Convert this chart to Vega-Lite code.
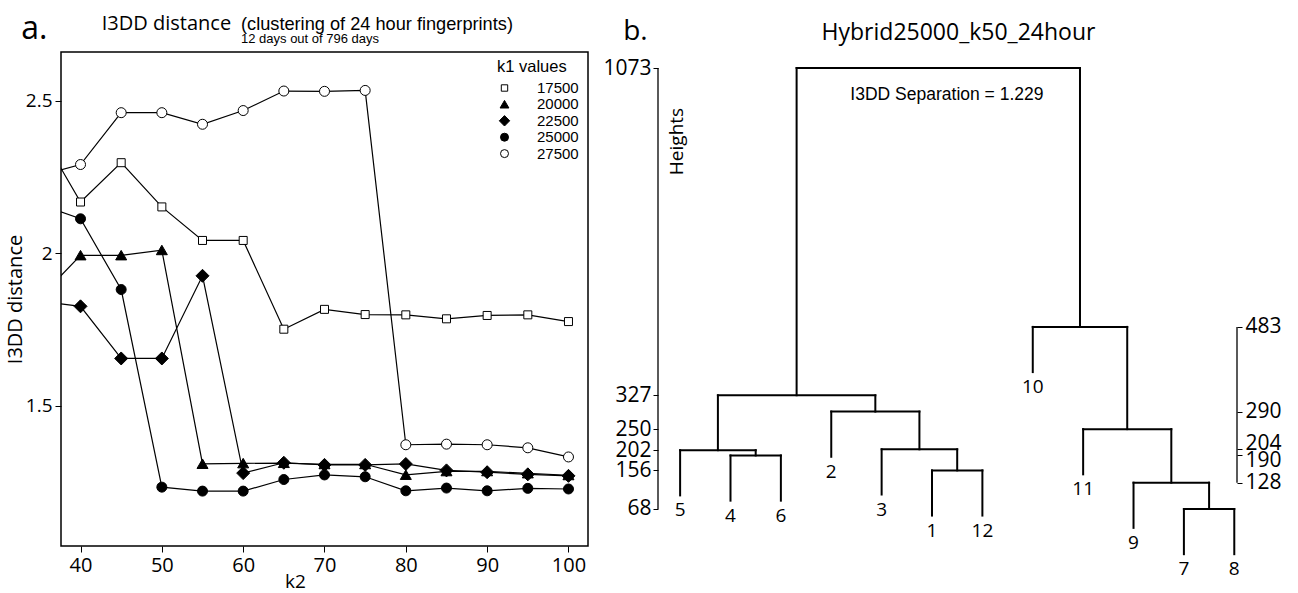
{
  "$schema": "https://vega.github.io/schema/vega-lite/v6.json",
  "padding": {"left": 4, "top": 12, "right": 5, "bottom": 0},
  "background": "white",
  "spacing": 13,
  "config": {
    "view": {"stroke": null},
    "font": "Open Sans",
    "axis": {"grid": false, "domainColor": "black", "tickColor": "black", "labelColor": "black", "titleColor": "black", "titleFontWeight": "normal", "labelFont": "Open Sans", "titleFont": "Open Sans"},
    "title": {"fontWeight": "normal", "color": "black"}
  },
  "datasets": {
    "dist": [
      {"k1": "17500", "k2": 35, "dist": 2.398}, {"k1": "17500", "k2": 40, "dist": 2.168}, {"k1": "17500", "k2": 45, "dist": 2.297}, {"k1": "17500", "k2": 50, "dist": 2.152}, {"k1": "17500", "k2": 55, "dist": 2.042}, {"k1": "17500", "k2": 60, "dist": 2.042}, {"k1": "17500", "k2": 65, "dist": 1.751}, {"k1": "17500", "k2": 70, "dist": 1.816}, {"k1": "17500", "k2": 75, "dist": 1.799}, {"k1": "17500", "k2": 80, "dist": 1.798}, {"k1": "17500", "k2": 85, "dist": 1.785}, {"k1": "17500", "k2": 90, "dist": 1.796}, {"k1": "17500", "k2": 95, "dist": 1.798}, {"k1": "17500", "k2": 100, "dist": 1.776},
      {"k1": "27500", "k2": 35, "dist": 2.254}, {"k1": "27500", "k2": 40, "dist": 2.291}, {"k1": "27500", "k2": 45, "dist": 2.461}, {"k1": "27500", "k2": 50, "dist": 2.461}, {"k1": "27500", "k2": 55, "dist": 2.423}, {"k1": "27500", "k2": 60, "dist": 2.468}, {"k1": "27500", "k2": 65, "dist": 2.532}, {"k1": "27500", "k2": 70, "dist": 2.531}, {"k1": "27500", "k2": 75, "dist": 2.534}, {"k1": "27500", "k2": 80, "dist": 1.372}, {"k1": "27500", "k2": 85, "dist": 1.374}, {"k1": "27500", "k2": 90, "dist": 1.372}, {"k1": "27500", "k2": 95, "dist": 1.362}, {"k1": "27500", "k2": 100, "dist": 1.332},
      {"k1": "25000", "k2": 35, "dist": 2.161}, {"k1": "25000", "k2": 40, "dist": 2.113}, {"k1": "25000", "k2": 45, "dist": 1.881}, {"k1": "25000", "k2": 50, "dist": 1.233}, {"k1": "25000", "k2": 55, "dist": 1.220}, {"k1": "25000", "k2": 60, "dist": 1.220}, {"k1": "25000", "k2": 65, "dist": 1.258}, {"k1": "25000", "k2": 70, "dist": 1.273}, {"k1": "25000", "k2": 75, "dist": 1.267}, {"k1": "25000", "k2": 80, "dist": 1.221}, {"k1": "25000", "k2": 85, "dist": 1.230}, {"k1": "25000", "k2": 90, "dist": 1.221}, {"k1": "25000", "k2": 95, "dist": 1.229}, {"k1": "25000", "k2": 100, "dist": 1.227},
      {"k1": "22500", "k2": 35, "dist": 1.843}, {"k1": "22500", "k2": 40, "dist": 1.826}, {"k1": "22500", "k2": 45, "dist": 1.655}, {"k1": "22500", "k2": 50, "dist": 1.655}, {"k1": "22500", "k2": 55, "dist": 1.926}, {"k1": "22500", "k2": 60, "dist": 1.279}, {"k1": "22500", "k2": 65, "dist": 1.313}, {"k1": "22500", "k2": 70, "dist": 1.306}, {"k1": "22500", "k2": 75, "dist": 1.306}, {"k1": "22500", "k2": 80, "dist": 1.309}, {"k1": "22500", "k2": 85, "dist": 1.288}, {"k1": "22500", "k2": 90, "dist": 1.282}, {"k1": "22500", "k2": 95, "dist": 1.275}, {"k1": "22500", "k2": 100, "dist": 1.270},
      {"k1": "20000", "k2": 35, "dist": 1.854}, {"k1": "20000", "k2": 40, "dist": 1.993}, {"k1": "20000", "k2": 45, "dist": 1.993}, {"k1": "20000", "k2": 50, "dist": 2.010}, {"k1": "20000", "k2": 55, "dist": 1.309}, {"k1": "20000", "k2": 60, "dist": 1.311}, {"k1": "20000", "k2": 65, "dist": 1.312}, {"k1": "20000", "k2": 70, "dist": 1.308}, {"k1": "20000", "k2": 75, "dist": 1.308}, {"k1": "20000", "k2": 80, "dist": 1.273}, {"k1": "20000", "k2": 85, "dist": 1.285}, {"k1": "20000", "k2": 90, "dist": 1.285}, {"k1": "20000", "k2": 95, "dist": 1.278}, {"k1": "20000", "k2": 100, "dist": 1.272}
    ],
    "segments": [
      {"x": 2, "x2": 3, "y": 190, "y2": 190}, {"x": 1, "x2": 2.5, "y": 202, "y2": 202}, {"x": 6, "x2": 7, "y": 156, "y2": 156}, {"x": 5, "x2": 6.5, "y": 204, "y2": 204}, {"x": 4, "x2": 5.75, "y": 290, "y2": 290}, {"x": 1.75, "x2": 4.875, "y": 327, "y2": 327}, {"x": 11, "x2": 12, "y": 68, "y2": 68}, {"x": 10, "x2": 11.5, "y": 128, "y2": 128}, {"x": 9, "x2": 10.75, "y": 250, "y2": 250}, {"x": 8, "x2": 9.875, "y": 483, "y2": 483}, {"x": 3.3125, "x2": 8.9375, "y": 1073, "y2": 1073},
      {"x": 1, "x2": 1, "y": 99, "y2": 202}, {"x": 2, "x2": 2, "y": 87, "y2": 190}, {"x": 3, "x2": 3, "y": 87, "y2": 190}, {"x": 2.5, "x2": 2.5, "y": 190, "y2": 202}, {"x": 4, "x2": 4, "y": 187, "y2": 290}, {"x": 5, "x2": 5, "y": 101, "y2": 204}, {"x": 6, "x2": 6, "y": 53, "y2": 156}, {"x": 7, "x2": 7, "y": 53, "y2": 156}, {"x": 6.5, "x2": 6.5, "y": 156, "y2": 204}, {"x": 5.75, "x2": 5.75, "y": 204, "y2": 290}, {"x": 1.75, "x2": 1.75, "y": 202, "y2": 327}, {"x": 4.875, "x2": 4.875, "y": 290, "y2": 327}, {"x": 3.3125, "x2": 3.3125, "y": 327, "y2": 1073},
      {"x": 8, "x2": 8, "y": 380, "y2": 483}, {"x": 9, "x2": 9, "y": 147, "y2": 250}, {"x": 10, "x2": 10, "y": 25, "y2": 128}, {"x": 11, "x2": 11, "y": -35, "y2": 68}, {"x": 12, "x2": 12, "y": -35, "y2": 68}, {"x": 11.5, "x2": 11.5, "y": 68, "y2": 128}, {"x": 10.75, "x2": 10.75, "y": 128, "y2": 250}, {"x": 9.875, "x2": 9.875, "y": 250, "y2": 483}, {"x": 8.9375, "x2": 8.9375, "y": 483, "y2": 1073}
    ],
    "leaves": [
      {"leaf": "5", "pos": 1, "bottom": 99}, {"leaf": "4", "pos": 2, "bottom": 87}, {"leaf": "6", "pos": 3, "bottom": 87}, {"leaf": "2", "pos": 4, "bottom": 187}, {"leaf": "3", "pos": 5, "bottom": 101}, {"leaf": "1", "pos": 6, "bottom": 53}, {"leaf": "12", "pos": 7, "bottom": 53}, {"leaf": "10", "pos": 8, "bottom": 380}, {"leaf": "11", "pos": 9, "bottom": 147}, {"leaf": "9", "pos": 10, "bottom": 25}, {"leaf": "7", "pos": 11, "bottom": -35}, {"leaf": "8", "pos": 12, "bottom": -35}
    ]
  },
  "hconcat": [
    {
      "width": 527,
      "height": 494,
      "view": {"stroke": "black", "strokeWidth": 1.5},
      "title": {"text": "(clustering of 24 hour fingerprints)", "subtitle": "12 days out of 796 days", "font": "Liberation Sans", "fontSize": 18.2, "subtitleFont": "Liberation Sans", "subtitleFontSize": 13, "subtitleColor": "black", "anchor": "start", "frame": "group", "dx": 180, "offset": 6, "subtitlePadding": -1, "dy": 40},
      "data": {"name": "dist"},
      "layer": [
        {
          "mark": {"type": "line", "color": "black", "strokeWidth": 1.2, "clip": true},
          "encoding": {
            "x": {"field": "k2", "type": "quantitative", "scale": {"domain": [37.6, 102.4], "nice": false, "zero": false}, "axis": {"values": [40, 50, 60, 70, 80, 90, 100], "title": "k2", "labelFontSize": 20, "titleFontSize": 19, "tickSize": 6, "domain": false, "labelPadding": 3, "titleX": 234, "titlePadding": -3}},
            "y": {"field": "dist", "type": "quantitative", "scale": {"domain": [1.04, 2.66], "nice": false, "zero": false}, "axis": {"values": [1.5, 2, 2.5], "format": "~g", "title": "I3DD distance", "labelFontSize": 19, "titleFontSize": 20, "tickSize": 6, "domain": false, "labelPadding": 3, "titlePadding": 0}},
            "detail": {"field": "k1", "type": "nominal"},
            "order": {"field": "k2", "type": "quantitative"}
          }
        },
        {
          "transform": [{"filter": "datum.k2 >= 40"}],
          "mark": {"type": "point", "filled": true, "strokeWidth": 1, "size": 100, "opacity": 1},
          "encoding": {
            "x": {"field": "k2", "type": "quantitative"},
            "y": {"field": "dist", "type": "quantitative"},
            "shape": {"field": "k1", "type": "nominal", "scale": {"domain": ["17500", "20000", "22500", "25000", "27500"], "range": ["M-0.8,-0.8H0.8V0.8H-0.8Z", "M0,-1L1.1,0.9L-1.1,0.9Z", "M0,-1.3L1.3,0L0,1.3L-1.3,0Z", "circle", "circle"]},
              "legend": {"title": "k1 values", "orient": "none", "legendX": 436, "legendY": 7, "titleFont": "Liberation Sans", "titleFontSize": 16.5, "titleFontWeight": "normal", "titleColor": "black", "labelFont": "Liberation Sans", "labelFontSize": 15, "labelColor": "black", "symbolSize": 64, "symbolStrokeWidth": 1, "labelOffset": 25, "rowPadding": 0.4, "titlePadding": 5}},
            "fill": {"field": "k1", "type": "nominal", "scale": {"domain": ["17500", "20000", "22500", "25000", "27500"], "range": ["white", "black", "black", "black", "white"]},
              "legend": {"title": "k1 values", "orient": "none", "legendX": 436, "legendY": 7, "titleFont": "Liberation Sans", "titleFontSize": 16.5, "titleFontWeight": "normal", "titleColor": "black", "labelFont": "Liberation Sans", "labelFontSize": 15, "labelColor": "black", "symbolSize": 64, "symbolStrokeWidth": 1, "labelOffset": 25, "rowPadding": 0.4, "titlePadding": 5}},
            "stroke": {"field": "k1", "type": "nominal", "scale": {"domain": ["17500", "20000", "22500", "25000", "27500"], "range": ["black", "black", "black", "black", "black"]},
              "legend": {"title": "k1 values", "orient": "none", "legendX": 436, "legendY": 7, "titleFont": "Liberation Sans", "titleFontSize": 16.5, "titleFontWeight": "normal", "titleColor": "black", "labelFont": "Liberation Sans", "labelFontSize": 15, "labelColor": "black", "symbolSize": 64, "symbolStrokeWidth": 1, "labelOffset": 25, "rowPadding": 0.4, "titlePadding": 5}}
          }
        },
        {
          "data": {"values": [{}]},
          "mark": {"type": "text", "align": "left", "baseline": "alphabetic", "fontSize": 32, "font": "Open Sans", "color": "black", "clip": false},
          "encoding": {"x": {"datum": 32.7, "type": "quantitative"}, "y": {"datum": 2.7027, "type": "quantitative"}, "text": {"value": "a."}}
        },
        {
          "data": {"values": [{}]},
          "mark": {"type": "text", "align": "left", "baseline": "alphabetic", "fontSize": 20, "font": "Open Sans", "color": "black", "clip": false},
          "encoding": {"x": {"datum": 42.615, "type": "quantitative"}, "y": {"datum": 2.7325, "type": "quantitative"}, "text": {"value": "I3DD distance"}}
        }
      ]
    },
    {
      "width": 579,
      "height": 510,
      "title": {"text": "Hybrid25000_k50_24hour", "font": "Open Sans", "fontSize": 23, "dx": 11, "frame": "group", "offset": 8, "dy": 35},
      "layer": [
        {
          "data": {"name": "segments"},
          "mark": {"type": "rule", "strokeWidth": 2, "color": "black", "strokeCap": "square", "clip": false},
          "encoding": {
            "x": {"field": "x", "type": "quantitative", "scale": {"domain": [0.561, 12.054], "nice": false, "zero": false}, "axis": null},
            "x2": {"field": "x2"},
            "y": {"field": "y", "type": "quantitative", "scale": {"domain": [-52.8, 1109.5], "nice": false, "zero": false}, "axis": null},
            "y2": {"field": "y2"}
          }
        },
        {
          "data": {"values": [{}]},
          "mark": {"type": "rule", "strokeWidth": 1.3, "color": "black"},
          "encoding": {
            "x": {"datum": 0.561, "type": "quantitative", "scale": {"domain": [0.561, 12.054], "nice": false, "zero": false}, "axis": null},
            "y": {"datum": 68, "type": "quantitative", "scale": {"domain": [-52.8, 1109.5], "nice": false, "zero": false}, "axis": {"orient": "left", "values": [68, 156, 202, 250, 327, 1073], "format": "d", "title": "Heights", "domain": false, "tickSize": 5, "labelFontSize": 21, "labelPadding": 2, "titleFontSize": 19, "titleX": 18, "titleY": 89, "titleAngle": 270, "titleBaseline": "middle", "titleAlign": "center", "labelOverlap": false}},
            "y2": {"datum": 1073}
          }
        },
        {
          "data": {"values": [{}]},
          "mark": {"type": "rule", "strokeWidth": 1.3, "color": "black"},
          "encoding": {
            "x": {"datum": 12.054, "type": "quantitative", "scale": {"domain": [0.561, 12.054], "nice": false, "zero": false}, "axis": null},
            "y": {"datum": 128, "type": "quantitative", "scale": {"domain": [-52.8, 1109.5], "nice": false, "zero": false}, "axis": {"orient": "right", "values": [128, 190, 204, 290, 483], "format": "d", "title": null, "domain": false, "tickSize": 5, "labelFontSize": 21, "labelPadding": 3, "labelOverlap": false, "labelOffset": {"condition": [{"test": "datum.value == 204", "value": -6}, {"test": "datum.value == 190", "value": 5}], "value": 0}}},
            "y2": {"datum": 483}
          }
        },
        {
          "data": {"name": "leaves"},
          "mark": {"type": "text", "baseline": "top", "dy": 6, "fontSize": 19, "font": "Open Sans", "color": "black"},
          "encoding": {
            "x": {"field": "pos", "type": "quantitative", "scale": {"domain": [0.561, 12.054], "nice": false, "zero": false}, "axis": null},
            "y": {"field": "bottom", "type": "quantitative", "scale": {"domain": [-52.8, 1109.5], "nice": false, "zero": false}, "axis": null},
            "text": {"field": "leaf"}
          }
        },
        {
          "data": {"values": [{}]},
          "mark": {"type": "text", "align": "center", "baseline": "middle", "fontSize": 17.5, "font": "Liberation Sans", "color": "black"},
          "encoding": {
            "x": {"datum": 6.296, "type": "quantitative", "axis": null},
            "y": {"datum": 1012.6, "type": "quantitative", "axis": null},
            "text": {"value": "I3DD Separation = 1.229"}
          }
        },
        {
          "data": {"values": [{}]},
          "mark": {"type": "text", "align": "left", "baseline": "alphabetic", "fontSize": 28, "font": "Open Sans", "color": "black", "clip": false},
          "encoding": {
            "x": {"datum": -0.13, "type": "quantitative", "axis": null},
            "y": {"datum": 1136.8, "type": "quantitative", "axis": null},
            "text": {"value": "b."}
          }
        }
      ],
      "resolve": {"axis": {"y": "independent"}}
    }
  ]
}
